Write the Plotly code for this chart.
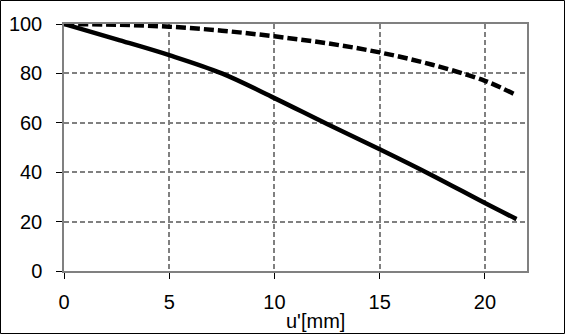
import plotly.graph_objects as go

x_solid = [0, 2.5, 5, 7.5, 10, 12.5, 15, 17.5, 20, 21.5]
y_solid = [100, 93.8, 87.4, 80.0, 70.0, 59.5, 49.3, 38.7, 27.5, 21.0]
x_dash = [0, 2.5, 5, 7.5, 10, 12.5, 15, 17.5, 20, 21.4]
y_dash = [100, 99.7, 98.9, 97.3, 95.0, 92.2, 88.5, 83.5, 77.0, 71.6]
x_ticks = [0, 5, 10, 15, 20]
y_ticks = [0, 20, 40, 60, 80, 100]
x_title = "u'[mm]"

W, H = 566, 335
L, R, T, B = 64, 39, 24, 64
pw, ph = W - L - R, H - T - B

fig = go.Figure()
fig.add_trace(go.Scatter(x=x_dash, y=y_dash, mode="lines",
                         line=dict(color="black", width=4.5, dash="10px,4px", shape="spline"),
                         showlegend=False))
fig.add_trace(go.Scatter(x=x_solid, y=y_solid, mode="lines",
                         line=dict(color="black", width=4.5, shape="spline"),
                         showlegend=False))

font = dict(family="Liberation Sans, Arial, sans-serif", size=20, color="black")
fig.update_xaxes(range=[0, 22], tickvals=x_ticks, showgrid=True, gridcolor="#808080",
                 gridwidth=1.5, griddash="5px,3px", showline=True, linecolor="#808080",
                 linewidth=1.5, mirror=True, ticks="outside", ticklen=6, tickcolor="black",
                 tickfont=font, zeroline=False, ticklabelstandoff=6)
fig.update_yaxes(range=[0, 100], tickvals=y_ticks, showgrid=True, gridcolor="#808080",
                 gridwidth=1.5, griddash="5px,3px", showline=True, linecolor="#808080",
                 linewidth=1.5, mirror=True, ticks="outside", ticklen=6, tickcolor="black",
                 tickfont=font, zeroline=False, ticklabelstandoff=10)

fig.add_annotation(text=x_title, xref="paper", yref="paper",
                   x=(315 - L) / pw, y=-(321 - (T + ph)) / ph,
                   xanchor="center", yanchor="middle", showarrow=False, font=font)

fig.add_shape(type="rect", xref="paper", yref="paper",
              x0=-(L - 0.5) / pw, x1=1 + (R - 1.5) / pw,
              y0=-(B - 1.5) / ph, y1=1 + (T - 0.5) / ph,
              line=dict(color="black", width=1))

fig.update_layout(width=W, height=H, margin=dict(l=L, r=R, t=T, b=B, autoexpand=False),
                  paper_bgcolor="white", plot_bgcolor="white")
fig.write_html("out.html", config={"displayModeBar": False},
               post_script="document.body.style.margin='0';")
